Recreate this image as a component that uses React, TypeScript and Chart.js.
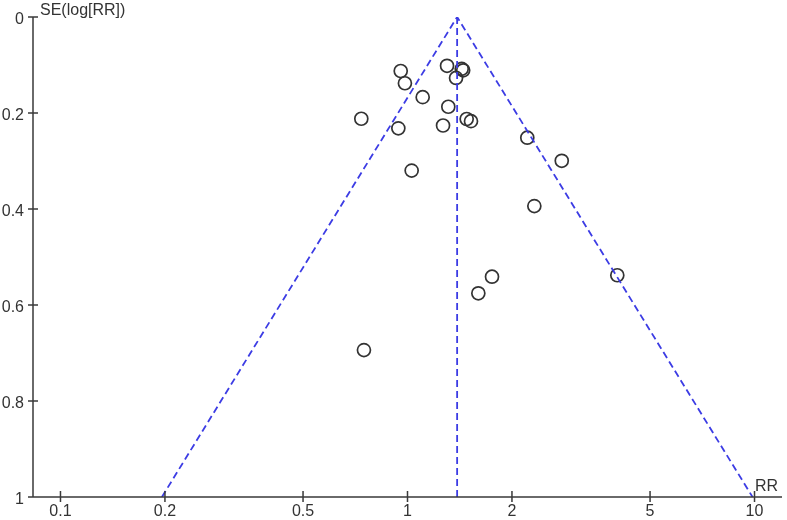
import React, { useEffect, useRef } from "react";
import { Chart, registerables } from "chart.js";

Chart.register(...registerables);

// Study estimates: relative risk and standard error of log(RR)
const studyRR = [0.956, 0.983, 1.3, 1.433, 1.447, 1.38, 1.106, 1.311, 0.736, 0.941, 1.266, 1.481, 1.524, 2.214, 2.783, 1.028, 2.32, 4.023, 1.752, 1.6, 0.749];
const studySE = [0.1125, 0.138, 0.1017, 0.108, 0.111, 0.127, 0.167, 0.187, 0.212, 0.232, 0.226, 0.2125, 0.217, 0.2515, 0.2996, 0.32, 0.394, 0.538, 0.541, 0.5756, 0.694];

// Pooled estimate and pseudo 95% confidence limits
const pooledRR = 1.39;
const funnelRR = [0.196, 1.39, 9.87];
const funnelSE = [1, 0, 1];
const centerRR = [pooledRR, pooledRR];
const centerSE = [0, 1];

const xTicks = [0.1, 0.2, 0.5, 1, 2, 5, 10];
const yTicks = [0, 0.2, 0.4, 0.6, 0.8, 1];
const xTitle = "RR";
const yTitle = "SE(log[RR])";

const AXIS_COLOR = "#3a3a3a";
const TEXT_COLOR = "#333333";
const FUNNEL_COLOR = "rgb(60,60,228)";
const FONT = "'Liberation Sans', Arial, sans-serif";

const axisDecor = {
  id: "axisDecor",
  afterDraw(chart: any) {
    const { ctx, chartArea, scales } = chart;
    const x = scales.x;
    const y = scales.y;
    ctx.save();
    ctx.strokeStyle = AXIS_COLOR;
    ctx.lineWidth = 1.5;
    ctx.beginPath();
    ctx.moveTo(chartArea.left, chartArea.top);
    ctx.lineTo(chartArea.left, chartArea.bottom);
    ctx.lineTo(chartArea.right, chartArea.bottom);
    yTicks.forEach((v) => {
      const py = y.getPixelForValue(v);
      ctx.moveTo(chartArea.left - 5, py);
      ctx.lineTo(chartArea.left + 5, py);
    });
    xTicks.forEach((v) => {
      const px = x.getPixelForValue(v);
      ctx.moveTo(px, chartArea.bottom - 6);
      ctx.lineTo(px, chartArea.bottom + 5);
    });
    ctx.stroke();
    ctx.fillStyle = TEXT_COLOR;
    ctx.font = `16px ${FONT}`;
    ctx.textBaseline = "alphabetic";
    ctx.textAlign = "left";
    ctx.fillText(yTitle, chartArea.left + 7, 14.5);
    ctx.textAlign = "right";
    ctx.fillText(xTitle, chartArea.right - 4, chartArea.bottom - 6);
    ctx.restore();
  },
};

export default function App() {
  const ref = useRef<HTMLCanvasElement | null>(null);

  useEffect(() => {
    document.body.style.margin = "0";
    const canvas = ref.current;
    if (!canvas) return;
    const chart = new Chart(canvas, {
      type: "scatter",
      data: {
        datasets: [
          {
            label: "funnel",
            data: funnelRR.map((v, i) => ({ x: v, y: funnelSE[i] })),
            showLine: true,
            borderColor: FUNNEL_COLOR,
            borderWidth: 1.8,
            borderDash: [7, 4],
            pointRadius: 0,
            fill: false,
          },
          {
            label: "pooled",
            data: centerRR.map((v, i) => ({ x: v, y: centerSE[i] })),
            showLine: true,
            borderColor: FUNNEL_COLOR,
            borderWidth: 1.8,
            borderDash: [7, 4],
            pointRadius: 0,
            fill: false,
          },
          {
            label: "studies",
            data: studyRR.map((v, i) => ({ x: v, y: studySE[i] })),
            showLine: false,
            pointRadius: 6.5,
            pointBorderWidth: 1.7,
            pointBorderColor: "#333333",
            pointBackgroundColor: "rgba(0,0,0,0)",
          },
        ],
      },
      options: {
        animation: false,
        responsive: false,
        layout: { autoPadding: false, padding: { top: 17, right: 5, left: 0, bottom: 0 } },
        plugins: {
          legend: { display: false },
          tooltip: { enabled: false },
        },
        scales: {
          x: {
            type: "logarithmic",
            bounds: "data",
            min: 1 / 12,
            max: 12,
            grid: { display: false, drawTicks: false },
            border: { display: false },
            afterBuildTicks: (scale: any) => {
              scale.ticks = xTicks.map((v) => ({ value: v }));
            },
            afterFit: (scale: any) => {
              scale.height = 23;
              scale.paddingLeft = 0;
              scale.paddingRight = 0;
            },
            ticks: {
              autoSkip: false,
              maxRotation: 0,
              padding: 5,
              color: TEXT_COLOR,
              font: { family: FONT, size: 16 },
              callback: (v: any) => String(v),
            },
          },
          y: {
            type: "linear",
            reverse: true,
            min: 0,
            max: 1,
            grid: { display: false, drawTicks: false },
            border: { display: false },
            afterBuildTicks: (scale: any) => {
              scale.ticks = yTicks.map((v) => ({ value: v }));
            },
            afterFit: (scale: any) => {
              scale.width = 33;
              scale.paddingTop = 0;
              scale.paddingBottom = 0;
            },
            ticks: {
              padding: 9,
              labelOffset: 3,
              color: TEXT_COLOR,
              font: { family: FONT, size: 16 },
              callback: (v: any) => String(Math.round(v * 10) / 10),
            },
          },
        },
      },
      plugins: [axisDecor],
    });
    return () => chart.destroy();
  }, []);

  return (
    <div style={{ position: "absolute", left: 0, top: 0, width: 787, height: 520, background: "#fff" }}>
      <canvas ref={ref} width={787} height={520} style={{ display: "block" }} />
    </div>
  );
}
